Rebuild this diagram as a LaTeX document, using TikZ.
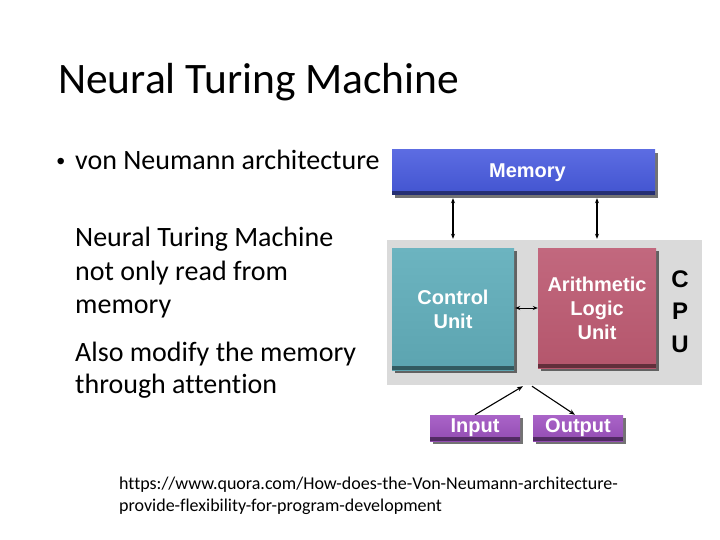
\documentclass[tikz,border=0pt]{standalone}
\usepackage{fontspec}
\setmainfont{Carlito}[Ligatures=NoCommon]
\newfontfamily\arialb{Liberation Sans}
\usetikzlibrary{shadows,arrows.meta}
\definecolor{memblue}{RGB}{66,84,208}
\definecolor{memtop}{RGB}{92,108,226}
\definecolor{cuteal}{RGB}{92,164,176}
\definecolor{cutop}{RGB}{108,180,192}
\definecolor{alured}{RGB}{180,86,108}
\definecolor{alutop}{RGB}{194,104,126}
\definecolor{iopurp}{RGB}{146,76,178}
\definecolor{iotop}{RGB}{170,100,200}
\definecolor{cpugray}{RGB}{218,218,218}
\tikzset{
  unitbox/.style={inner sep=0pt, align=center, text=white,
    font=\arialb\bfseries\fontsize{20}{24}\selectfont,
    drop shadow={shadow xshift=3pt, shadow yshift=-3pt, opacity=0.55, fill=black},
    path picture={\fill[black,opacity=.45] (path picture bounding box.south west) rectangle ([yshift=4pt]path picture bounding box.south east);}},
  link/.style={line width=1.1pt, {Stealth[length=5pt,width=4pt]}-{Stealth[length=5pt,width=4pt]}},
  onelink/.style={line width=1.1pt, -{Stealth[length=6pt,width=4.5pt]}},
  body/.style={anchor=base west, inner sep=0pt, font=\fontsize{28}{33}\selectfont},
  url/.style={anchor=base west, inner sep=0pt, font=\fontsize{18}{22}\selectfont},
}
\begin{document}
\begin{tikzpicture}[x=1pt,y=-1pt]
\useasboundingbox (0,0) rectangle (720,540);
% title and text
\node[anchor=base west, inner sep=0pt, font=\fontsize{43.5}{50}\selectfont] (title) at (58,94) {Neural Turing Machine};
\node[anchor=base west, inner sep=0pt, font=\arialb\fontsize{24}{26}\selectfont] (bul) at (56.5,170) {•};
\node[body] (b1) at (75,170) {von Neumann architecture};
\node[body] (l1) at (75,247) {Neural Turing Machine};
\node[body] (l2) at (75,280) {not only read from};
\node[body] (l3) at (75,313) {memory};
\node[body] (l4) at (75,361) {Also modify the memory};
\node[body] (l5) at (75,393) {through attention};
\node[url] (u1) at (119,489) {https://www.quora.com/How-does-the-Von-Neumann-architecture-};
\node[url] (u2) at (119,511) {provide-flexibility-for-program-development};
% diagram
\node[fill=cpugray, minimum width=315pt, minimum height=145pt, inner sep=0pt] (cpu) at (544.5,312.5) {};
\node[unitbox, top color=memtop, bottom color=memblue, minimum width=263pt, minimum height=45pt] (mem) at (523.5,172.5) {\hspace*{8pt}Memory};
\node[unitbox, top color=cutop, bottom color=cuteal, minimum width=122pt, minimum height=122pt] (cu) at (453,309) {Control\\Unit};
\node[unitbox, top color=alutop, bottom color=alured, minimum width=118pt, minimum height=120pt] (alu) at (597,308) {Arithmetic\\Logic\\Unit};
\node[unitbox, top color=iotop, bottom color=iopurp, minimum width=90pt, minimum height=26pt] (in) at (475,428) {Input};
\node[unitbox, top color=iotop, bottom color=iopurp, minimum width=90pt, minimum height=26pt] (out) at (578,428) {Output};
\node[inner sep=0pt, align=center, font=\arialb\bfseries\fontsize{24}{32.5}\selectfont] (cpul) at (680,311.5) {C\\P\\U};
% connectors
\draw[link] ([yshift=-3pt]mem.south -| cu.north) -- ([yshift=1pt]cpu.north -| cu.north);
\draw[link] ([yshift=-3pt]mem.south -| alu.north) -- ([yshift=1pt]cpu.north -| alu.north);
\draw[link, line width=0.9pt] ([xshift=1pt]cu.east |- alu.west) -- (alu.west);
\coordinate (cin) at ([xshift=-21.5pt]cpu.south);
\coordinate (cout) at ([xshift=-12.5pt]cpu.south);
\draw[onelink] (in.north) -- ([yshift=-1pt]cin);
\draw[onelink] ([yshift=-1pt]cout) -- ([xshift=-3pt]out.north);
\end{tikzpicture}
\end{document}
